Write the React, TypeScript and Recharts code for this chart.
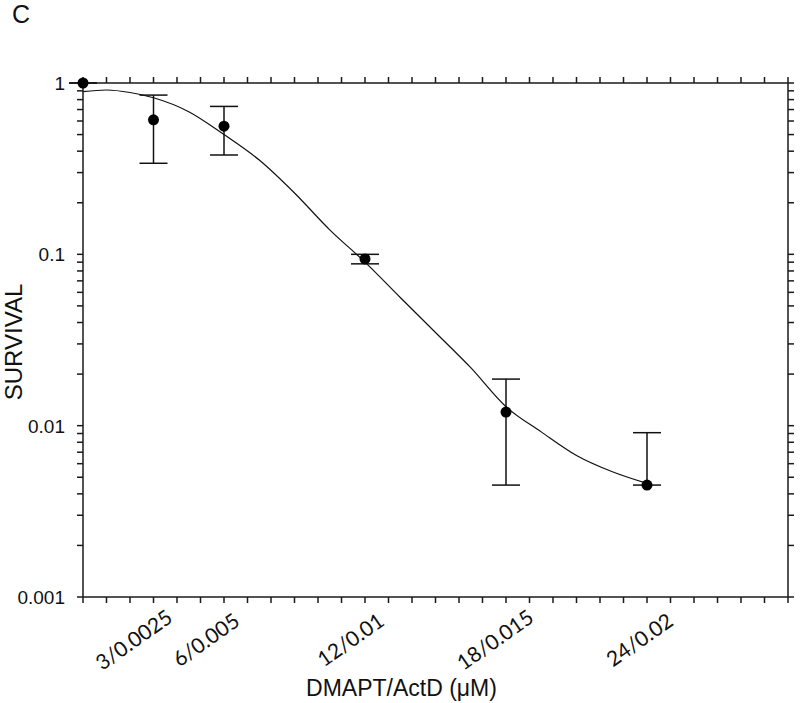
import { ComposedChart, Line, Scatter, ErrorBar, XAxis, YAxis, Label } from 'recharts'

// measured points (dose of DMAPT in µM)
const doses = [0, 3, 6, 12, 18, 24]
const survival = [1, 0.61, 0.56, 0.094, 0.012, 0.0045]
const errLow = [0, 0.27, 0.18, 0.006, 0.0075, 0]
const errHigh = [0, 0.24, 0.17, 0.006, 0.0067, 0.0046]

// fitted curve
const fitDose = [0, 1, 2, 3, 4.5, 6, 7.5, 9, 10.5, 12, 13.5, 15, 16.5, 18, 19.5, 21, 22.5, 24]
const fitSurvival = [0.89, 0.91, 0.88, 0.82, 0.68, 0.5, 0.355, 0.228, 0.139, 0.09, 0.056, 0.035, 0.0218, 0.0129, 0.0092, 0.0067, 0.0054, 0.0046]

const doseTicks = [0, 1, 2, 3, 4, 5, 6, 7, 8, 9, 10, 11, 12, 13, 14, 15, 16, 17, 18, 19, 20, 21, 22, 23, 24, 25, 26, 27, 28, 29, 30]
const doseLabels: Record<number, string> = { 3: '3/0.0025', 6: '6/0.005', 12: '12/0.01', 18: '18/0.015', 24: '24/0.02' }

const survivalTicks = [
  0.001, 0.002, 0.003, 0.004, 0.005, 0.006, 0.007, 0.008, 0.009,
  0.01, 0.02, 0.03, 0.04, 0.05, 0.06, 0.07, 0.08, 0.09,
  0.1, 0.2, 0.3, 0.4, 0.5, 0.6, 0.7, 0.8, 0.9, 1,
]
const majorTicks = [0.001, 0.01, 0.1, 1]

const points = doses.map((x, i) => ({ x, y: survival[i], err: [errLow[i], errHigh[i]] }))
const fit = fitDose.map((x, i) => ({ x, y: fitSurvival[i] }))

const AXIS = '#1a1a1a'
const ARIAL = 'Liberation Sans, Arial, sans-serif'

// rotated labels sit a little left of their tick, less so further right
const XTick = ({ x, y, payload }: any) => {
  const text = doseLabels[payload.value]
  if (!text) return <g />
  const shift = -22 + (x - 83) * 0.025
  return (
    <text transform={`translate(${x + shift},${y + 34}) rotate(-35)`} textAnchor="middle" dominantBaseline="central"
      fontFamily="Lato, sans-serif" fontSize={21} fill="#111">{text}</text>
  )
}

const YTick = ({ x, y, payload }: any) => {
  if (!majorTicks.includes(payload.value)) return <g />
  return <text x={x} y={y} dy="0.36em" textAnchor="end" fontFamily={ARIAL} fontSize={19} fill="#111">{payload.value}</text>
}

const NoLabel = () => <g />

export default function App() {
  return (
    <div style={{ position: 'absolute', left: 0, top: 0, width: 800, height: 703, background: '#fff' }}>
      <svg width={60} height={40} style={{ position: 'absolute', left: 0, top: 0 }}>
        <text x={12} y={23} fontFamily={ARIAL} fontSize={25} fill="#111">C</text>
      </svg>
      <ComposedChart width={800} height={703} margin={{ top: 82, right: 11, bottom: 0, left: 0 }}>
        <XAxis xAxisId={0} type="number" dataKey="x" domain={[0, 30]} ticks={doseTicks} interval={0}
          height={106} tickSize={6} stroke={AXIS} strokeWidth={1.5} tick={<XTick />}>
          <Label content={({ viewBox }: any) => (
            <text x={viewBox.x + viewBox.width / 2 - 34} y={viewBox.y + 99} textAnchor="middle"
              fontFamily={ARIAL} fontSize={23} fill="#111">DMAPT/ActD (μM)</text>
          )} />
        </XAxis>
        <XAxis xAxisId="top" orientation="top" type="number" dataKey="x" domain={[0, 30]} ticks={doseTicks} interval={0}
          height={1} tickSize={6} stroke={AXIS} strokeWidth={1.5} tick={NoLabel} allowDataOverflow />
        <YAxis yAxisId={0} scale="log" type="number" domain={[0.001, 1]} ticks={survivalTicks} interval={0}
          width={83} tickSize={6} tickMargin={12} stroke={AXIS} strokeWidth={1.5} tick={<YTick />}>
          <Label content={({ viewBox }: any) => {
            const cx = viewBox.x + 22
            const cy = viewBox.y + viewBox.height / 2 + 2
            return (
              <text x={cx} y={cy} transform={`rotate(-90 ${cx} ${cy})`} textAnchor="middle"
                fontFamily={ARIAL} fontSize={24} fill="#111">SURVIVAL</text>
            )
          }} />
        </YAxis>
        <YAxis yAxisId="right" orientation="right" scale="log" type="number" domain={[0.001, 1]} ticks={survivalTicks}
          interval={0} width={1} tickSize={6} stroke={AXIS} strokeWidth={1.5} tick={NoLabel} allowDataOverflow />
        <Line data={fit} dataKey="y" type="monotone" dot={false} activeDot={false} stroke="#111" strokeWidth={1.2}
          isAnimationActive={false} />
        <Scatter data={points} dataKey="y" isAnimationActive={false}
          shape={(p: any) => <circle cx={p.cx} cy={p.cy} r={5.5} fill="#000" />}>
          <ErrorBar dataKey="err" direction="y" width={14} stroke="#111" strokeWidth={1.5} />
        </Scatter>
      </ComposedChart>
    </div>
  )
}
